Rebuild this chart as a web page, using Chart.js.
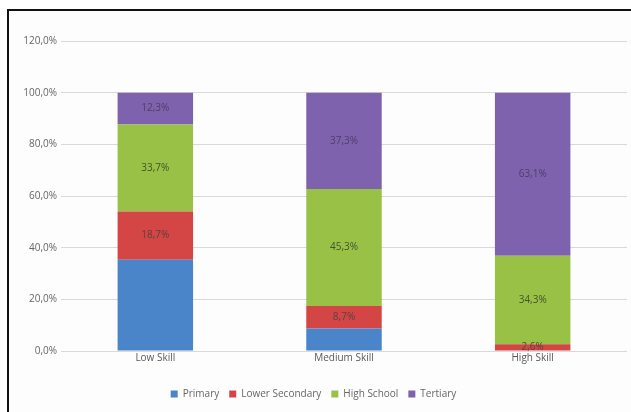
<!DOCTYPE html>
<html>
<head>
<meta charset="utf-8">
<script src="https://cdn.jsdelivr.net/npm/chart.js@4/dist/chart.umd.min.js"></script>
<style>
  html, body { margin: 0; padding: 0; background: #fff; }
  body { width: 631px; height: 412px; position: relative; overflow: hidden; }
  .frame { position: absolute; left: 7px; top: 9px; width: 660px; height: 440px; border: 2px solid #111; background: #fdfdfd; }
  #wrap { position: absolute; left: 0; top: 0; width: 631px; height: 412px; }
</style>
</head>
<body>
<div class="frame"></div>
<div id="wrap"><canvas id="chart" width="631" height="412"></canvas></div>
<script>
const categories = ['Low Skill', 'Medium Skill', 'High Skill'];
const primary = [35.3, 8.7, 0.0];
const lowerSecondary = [18.7, 8.7, 2.6];
const highSchool = [33.7, 45.3, 34.3];
const tertiary = [12.3, 37.3, 63.1];
const yTicks = [0, 20, 40, 60, 80, 100, 120];

const fmt = v => v.toFixed(1).replace('.', ',') + '%';

// value labels inside segments (Primary has none)
const segLabels = {
  id: 'segLabels',
  afterDatasetsDraw(chart) {
    const ctx = chart.ctx;
    ctx.save();
    ctx.font = '10px "Open Sans", sans-serif';
    ctx.textAlign = 'center';
    ctx.textBaseline = 'middle';
    chart.data.datasets.forEach((ds, i) => {
      if (!ds.showLabel) return;
      chart.getDatasetMeta(i).data.forEach((bar, j) => {
        const v = ds.data[j];
        if (!v) return;
        ctx.fillStyle = ds.labelColor;
        ctx.fillText(fmt(v), bar.x, (bar.y + bar.base) / 2);
      });
    });
    ctx.restore();
  }
};

new Chart(document.getElementById('chart'), {
  type: 'bar',
  data: {
    labels: categories,
    datasets: [
      { label: 'Primary', data: primary, backgroundColor: '#4a84c9', showLabel: false },
      { label: 'Lower Secondary', data: lowerSecondary, backgroundColor: '#d44545', showLabel: true, labelColor: '#5e4040' },
      { label: 'High School', data: highSchool, backgroundColor: '#98c146', showLabel: true, labelColor: '#44532e' },
      { label: 'Tertiary', data: tertiary, backgroundColor: '#7f62ad', showLabel: true, labelColor: '#4d3f68' }
    ]
  },
  options: {
    responsive: false,
    animation: false,
    devicePixelRatio: 1,
    barPercentage: 0.4,
    categoryPercentage: 1,
    layout: { padding: { top: 41, right: 4, left: 0, bottom: 3 } },
    plugins: {
      tooltip: { enabled: false },
      legend: {
        position: 'bottom',
        labels: {
          boxWidth: 7, boxHeight: 7, padding: 10,
          color: '#666',
          font: { family: '"Open Sans", sans-serif', size: 10 }
        }
      }
    },
    scales: {
      x: {
        stacked: true,
        grid: { display: false, tickLength: 0 },
        border: { display: false },
        ticks: { color: '#595959', padding: 1, font: { family: '"Open Sans", sans-serif', size: 10 } },
        afterFit: s => { s.height = 28; }
      },
      y: {
        stacked: true,
        min: 0, max: 120,
        afterBuildTicks: s => { s.ticks = yTicks.map(v => ({ value: v })); },
        afterFit: s => { s.width = 61; },
        grid: { color: '#d9d9d9', drawTicks: false },
        border: { display: false },
        ticks: {
          color: '#666', padding: 4,
          font: { family: '"Open Sans", sans-serif', size: 10 },
          callback: v => fmt(v)
        }
      }
    }
  },
  plugins: [segLabels]
});
</script>
</body>
</html>
